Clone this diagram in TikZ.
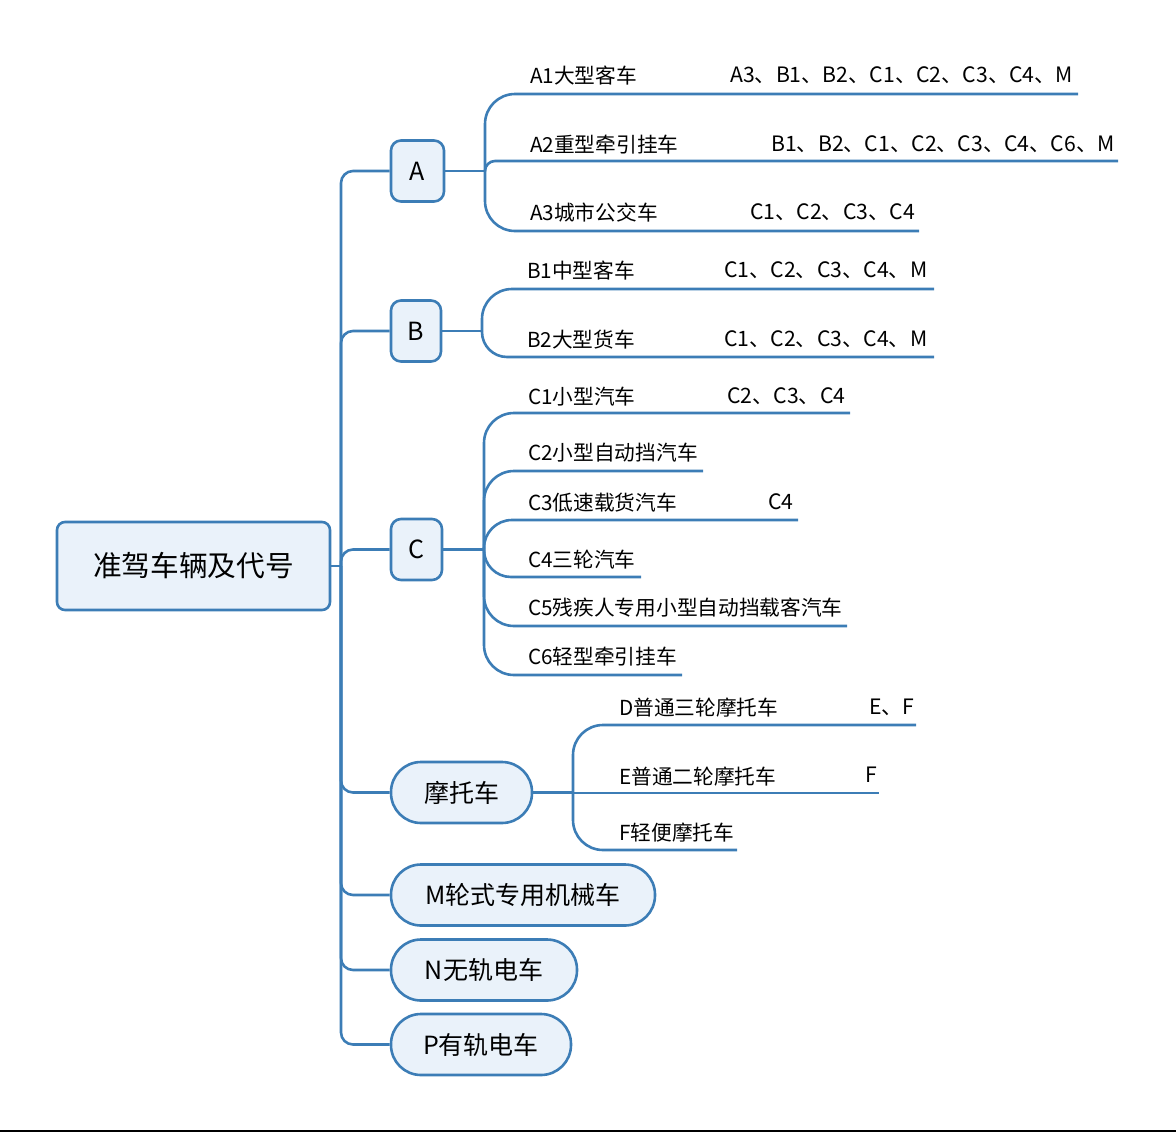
\documentclass[tikz,border=0pt]{standalone}
\usepackage{fontspec}
\setmainfont{Noto Sans CJK SC}
\definecolor{lc}{RGB}{60,125,182}
\definecolor{fc}{RGB}{234,242,250}
\begin{document}
\begin{tikzpicture}[x=1pt,y=-1pt,
  conn/.style={draw=lc, line width=2.6pt},
  rootbox/.style={draw=lc, fill=fc, rounded corners=8pt, minimum width=273pt, minimum height=88pt, font=\fontsize{28.7}{32}\selectfont, line width=2.6pt, inner sep=0pt},
  sqbox/.style={draw=lc, fill=fc, rounded corners=10pt, minimum height=61pt, font=\fontsize{25}{28}\selectfont, line width=2.6pt, inner sep=0pt},
  pillbox/.style={draw=lc, fill=fc, rounded corners=30pt, minimum height=61pt, font=\fontsize{25}{28}\selectfont, line width=2.6pt, inner sep=0pt},
  lbl/.style={anchor=west, inner sep=0pt, font=\fontsize{20.7}{24}\selectfont},
  codes/.style={anchor=west, inner sep=0pt, font=\fontsize{21.2}{24}\selectfont},
]
\useasboundingbox (0,0) rectangle (1176,1133);
\draw[black, line width=2pt] (0,1131) -- (1176,1131);

% root and level-1 nodes
\node[rootbox] (root) at (193.5,566) {准驾车辆及代号};
\node[sqbox, minimum width=53pt] (A) at (417.5,171) {A};
\node[sqbox, minimum width=50pt] (B) at (416,331) {B};
\node[sqbox, minimum width=51pt] (C) at (416.5,549.5) {C};
\node[pillbox, minimum width=141pt] (moto) at (461.5,792.5) {摩托车};
\node[pillbox, minimum width=264pt] (M) at (523,895) {M轮式专用机械车};
\node[pillbox, minimum width=186pt] (N) at (484,970) {N无轨电车};
\node[pillbox, minimum width=180pt] (P) at (481,1044.5) {P有轨电车};

\coordinate (J) at (341,566);
\draw[conn] (root.east) -- (J);
\foreach \n in {A,B,C,moto,M,N,P}{
  \draw[conn, rounded corners=12pt] (J) |- (\n.west);
}

% group junctions
\coordinate (JA) at (485,171);
\coordinate (JB) at (482,331);
\coordinate (JC) at (484,549.5);
\coordinate (JD) at (573,792.5);
\draw[conn] (A.east) -- (JA);
\draw[conn] (B.east) -- (JB);
\draw[conn] (C.east) -- (JC);
\draw[conn] (moto.east) -- (JD);

% line ends
\coordinate (a1) at (1078,94);
\coordinate (a2) at (1118,161);
\coordinate (a3) at (919,231);
\coordinate (b1) at (934,289);
\coordinate (b2) at (934,357);
\coordinate (c1) at (850,413);
\coordinate (c2) at (703,471);
\coordinate (c3) at (798,520);
\coordinate (c4) at (641,577);
\coordinate (c5) at (847,626);
\coordinate (c6) at (682,675);
\coordinate (d1) at (916,725);
\coordinate (d2) at (879,793);
\coordinate (d3) at (737,850);

\draw[conn, rounded corners=30pt] (JA) |- (a1);
\draw[conn, rounded corners=10pt] (JA) |- (a2);
\draw[conn, rounded corners=30pt] (JA) |- (a3);
\draw[conn, rounded corners=30pt] (JB) |- (b1);
\draw[conn, rounded corners=25pt] (JB) |- (b2);
\draw[conn, rounded corners=30pt] (JC) |- (c1);
\draw[conn, rounded corners=30pt] (JC) |- (c2);
\draw[conn, rounded corners=28pt] (JC) |- (c3);
\draw[conn, rounded corners=27pt] (JC) |- (c4);
\draw[conn, rounded corners=30pt] (JC) |- (c5);
\draw[conn, rounded corners=30pt] (JC) |- (c6);
\draw[conn, rounded corners=30pt] (JD) |- (d1);
\draw[conn] (JD) -- (JD |- d2) -- (d2);
\draw[conn, rounded corners=30pt] (JD) |- (d3);

% labels
\node[lbl] (ta1) at (530,76) {A1大型客车};
\node[codes] (ta1b) at (730,75) {A3、B1、B2、C1、C2、C3、C4、M};
\node[lbl] (ta2) at (530,145) {A2重型牵引挂车};
\node[codes] (ta2b) at (771,144) {B1、B2、C1、C2、C3、C4、C6、M};
\node[lbl] (ta3) at (530,213) {A3城市公交车};
\node[codes] (ta3b) at (750,212) {C1、C2、C3、C4};
\node[lbl] (tb1) at (527,271) {B1中型客车};
\node[codes] (tb1b) at (724,270) {C1、C2、C3、C4、M};
\node[lbl] (tb2) at (527,340) {B2大型货车};
\node[codes] (tb2b) at (724,339) {C1、C2、C3、C4、M};
\node[lbl] (tc1) at (528,397) {C1小型汽车};
\node[codes] (tc1b) at (727,396) {C2、C3、C4};
\node[lbl] (tc2) at (528,453) {C2小型自动挡汽车};
\node[lbl] (tc3) at (528,503) {C3低速载货汽车};
\node[codes] (tc3b) at (768,502) {C4};
\node[lbl] (tc4) at (528,560) {C4三轮汽车};
\node[lbl] (tc5) at (528,608) {C5残疾人专用小型自动挡载客汽车};
\node[lbl] (tc6) at (528,657) {C6轻型牵引挂车};
\node[lbl] (td1) at (619,708) {D普通三轮摩托车};
\node[codes] (td1b) at (869,707) {E、F};
\node[lbl] (td2) at (619,777) {E普通二轮摩托车};
\node[codes] (td2b) at (865,775) {F};
\node[lbl] (td3) at (619,833) {F轻便摩托车};
\end{tikzpicture}
\end{document}
